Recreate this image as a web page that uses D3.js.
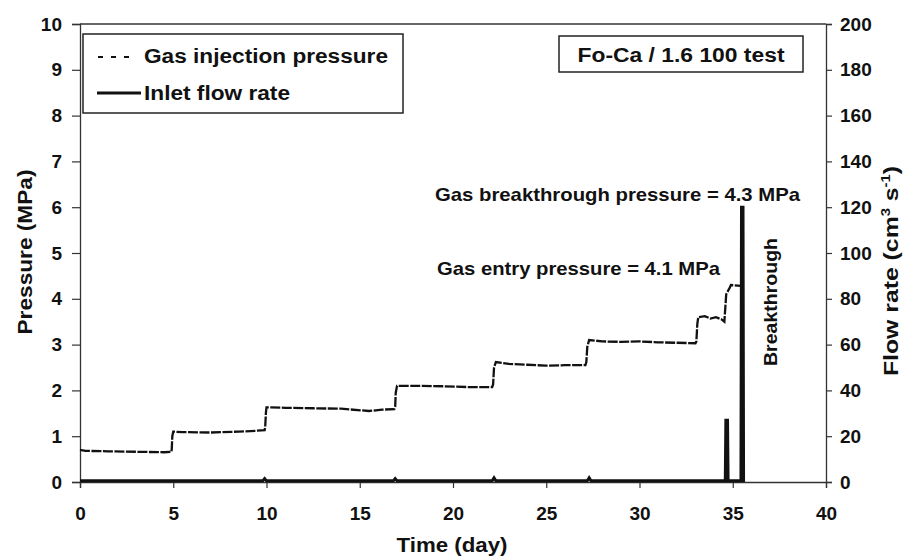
<!DOCTYPE html>
<html>
<head>
<meta charset="utf-8">
<script src="https://cdn.jsdelivr.net/npm/d3@7"></script>
<style>
  body { margin: 0; background: #fff; }
  text { font-family: "Liberation Sans", Arial, sans-serif; font-weight: bold; fill: #111; }
</style>
</head>
<body>
<div id="chart"></div>
<script>
// values
var pressureDays = [0, 0.3, 1.5, 3, 4.5, 4.9, 4.92,
  4.95, 5.0, 5.5, 7, 8.5, 9.5, 9.9, 9.93,
  9.97, 10.0, 11, 12.5, 14, 15.5, 16.2, 16.85, 16.9,
  16.93, 17.0, 18, 19.5, 21, 22.1, 22.15,
  22.2, 22.3, 23, 24, 25, 26, 27.1, 27.15,
  27.2, 27.3, 28, 29, 30, 31, 32, 33.0, 33.05,
  33.1, 33.15, 33.5, 33.8, 34.1, 34.4, 34.55,
  34.6, 34.65, 34.85, 34.9, 35.45];
var pressureVals = [0.70, 0.68, 0.67, 0.66, 0.65, 0.66, 0.72,
  1.0, 1.1, 1.09, 1.08, 1.1, 1.12, 1.13, 1.2,
  1.52, 1.63, 1.62, 1.61, 1.6, 1.55, 1.58, 1.59, 1.65,
  1.95, 2.1, 2.1, 2.09, 2.07, 2.07, 2.13,
  2.5, 2.62, 2.58, 2.56, 2.54, 2.55, 2.55, 2.62,
  2.95, 3.1, 3.07, 3.06, 3.07, 3.05, 3.04, 3.03, 3.07,
  3.45, 3.6, 3.62, 3.57, 3.6, 3.55, 3.5,
  3.8, 4.1, 4.25, 4.3, 4.28];

var flowDays = [0, 9.8, 9.9, 10.0, 16.8, 16.9, 17.0, 22.1, 22.2, 22.3,
  27.2, 27.3, 27.4, 34.6, 34.63, 34.72, 34.75, 35.44, 35.47, 35.55, 35.58];
var flowVals = [0.5, 0.5, 1.5, 0.5, 0.5, 1.5, 0.5, 0.5, 1.8, 0.5,
  0.5, 1.8, 0.5, 0.5, 27, 27, 0.5, 0.5, 120, 120, 0];

var xTicks = [0, 5, 10, 15, 20, 25, 30, 35, 40];
var pTicks = [0, 1, 2, 3, 4, 5, 6, 7, 8, 9, 10];
var fTicks = [0, 20, 40, 60, 80, 100, 120, 140, 160, 180, 200];

var W = 903, H = 558;
var margin = {top: 24, right: 77, bottom: 76, left: 80};
var iw = W - margin.left - margin.right;
var ih = H - margin.top - margin.bottom;

var svg = d3.select("#chart").append("svg")
    .attr("width", W)
    .attr("height", H);

var g = svg.append("g")
    .attr("transform", "translate(" + margin.left + "," + margin.top + ")");

var x = d3.scaleLinear().domain([0, 40]).range([0, iw]);
var yP = d3.scaleLinear().domain([0, 10]).range([ih, 0]);
var yF = d3.scaleLinear().domain([0, 200]).range([ih, 0]);

// axes
var xAxis = g.append("g")
    .attr("transform", "translate(0," + ih + ")")
    .call(d3.axisBottom(x).tickValues(xTicks).tickSize(6).tickPadding(19).tickFormat(d3.format("d")));
var lAxis = g.append("g")
    .call(d3.axisLeft(yP).tickValues(pTicks).tickSize(8).tickPadding(10).tickFormat(d3.format("d")));
var rAxis = g.append("g")
    .attr("transform", "translate(" + iw + ",0)")
    .call(d3.axisRight(yF).tickValues(fTicks).tickSize(6).tickPadding(8).tickFormat(d3.format("d")));

[xAxis, lAxis, rAxis].forEach(function(a) {
  a.select(".domain").attr("stroke", "#333").attr("stroke-width", 1.3);
  a.selectAll(".tick line").attr("stroke", "#333").attr("stroke-width", 1.2);
  a.selectAll(".tick text").style("font-size", "19px").attr("fill", "#111");
});

// top border
g.append("line")
    .attr("x1", 0).attr("x2", iw)
    .attr("y1", 0).attr("y2", 0)
    .attr("stroke", "#333").attr("stroke-width", 1.3);

// flow line
var flowLine = d3.line()
    .x(function(d, i) { return x(flowDays[i]); })
    .y(function(d) { return yF(d); });
g.append("path")
    .datum(flowVals)
    .attr("d", flowLine)
    .attr("fill", "none")
    .attr("stroke", "#111")
    .attr("stroke-width", 3);

// pressure line
var pLine = d3.line()
    .x(function(d, i) { return x(pressureDays[i]); })
    .y(function(d) { return yP(d); });
g.append("path")
    .datum(pressureVals)
    .attr("d", pLine)
    .attr("fill", "none")
    .attr("stroke", "#111")
    .attr("stroke-width", 2.3)
    .attr("stroke-dasharray", "10,1.5");

// text helper: wide scanned lettering, so stretch to the measured length
function label(x0, y0, str, size, len, anchor, rot) {
  var t = svg.append("text")
      .style("font-size", size + "px")
      .attr("text-anchor", anchor || "start")
      .attr("textLength", len)
      .attr("lengthAdjust", "spacingAndGlyphs")
      .text(str);
  if (rot) t.attr("transform", "translate(" + x0 + "," + y0 + ") rotate(-90)");
  else t.attr("x", x0).attr("y", y0);
  return t;
}

// axis titles
label(452, 552, "Time (day)", 20, 111, "middle");
label(32, 252, "Pressure (MPa)", 20, 165, "middle", true);

var ft = svg.append("text")
    .attr("transform", "translate(898,271) rotate(-90) scale(1.24,1)")
    .attr("text-anchor", "middle")
    .style("font-size", "20px");
ft.append("tspan").text("Flow rate (cm");
ft.append("tspan").attr("dy", -8).style("font-size", "12px").text("3");
ft.append("tspan").attr("dy", 8).text(" s");
ft.append("tspan").attr("dy", -8).style("font-size", "12px").text("-1");
ft.append("tspan").attr("dy", 8).text(")");

// legend
svg.append("rect")
    .attr("x", 83).attr("y", 34).attr("width", 320).attr("height", 79)
    .attr("fill", "none").attr("stroke", "#222").attr("stroke-width", 1.5);
svg.append("line")
    .attr("x1", 98).attr("x2", 136).attr("y1", 57).attr("y2", 57)
    .attr("stroke", "#111").attr("stroke-width", 2).attr("stroke-dasharray", "5,8");
label(144, 63, "Gas injection pressure", 20, 244);
svg.append("line")
    .attr("x1", 97).attr("x2", 141).attr("y1", 93).attr("y2", 93)
    .attr("stroke", "#111").attr("stroke-width", 3);
label(144, 100, "Inlet flow rate", 20, 146);

// test label
svg.append("rect")
    .attr("x", 559).attr("y", 36).attr("width", 244).attr("height", 36)
    .attr("fill", "none").attr("stroke", "#222").attr("stroke-width", 1.5);
label(681, 62, "Fo-Ca / 1.6 100 test", 20, 207, "middle");

// annotations
label(435, 201, "Gas breakthrough pressure = 4.3 MPa", 19, 365);
label(437, 275, "Gas entry pressure = 4.1 MPa", 19, 283);
label(777, 302, "Breakthrough", 19, 128, "middle", true);
</script>
</body>
</html>
